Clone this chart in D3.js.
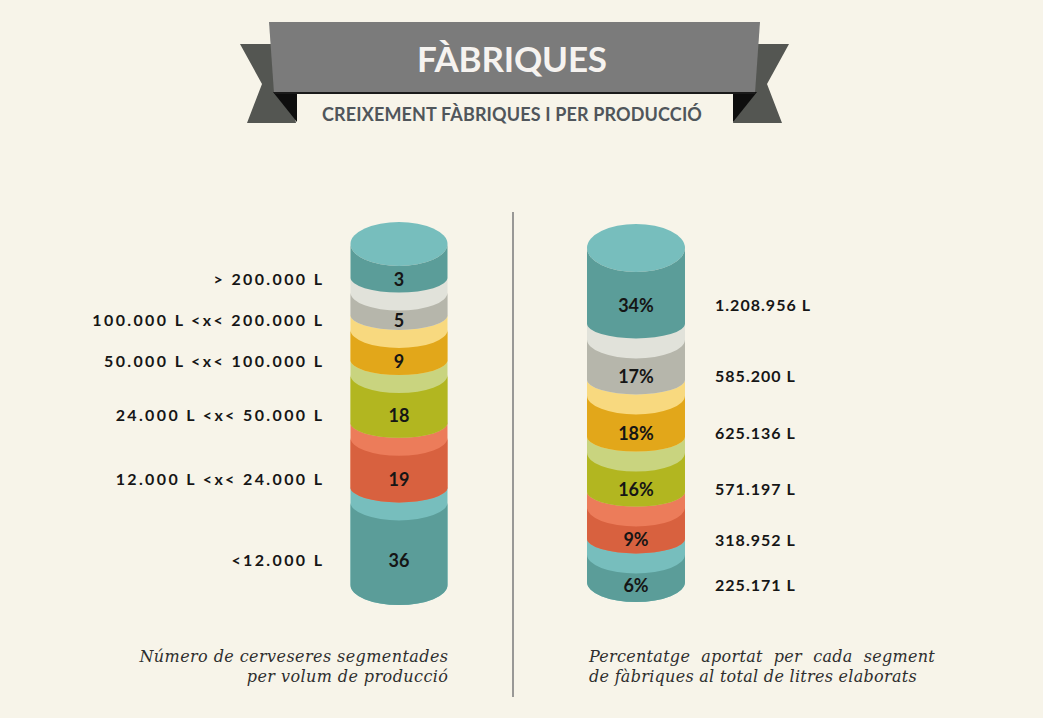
<!DOCTYPE html>
<html><head><meta charset="utf-8">
<script src="https://cdn.jsdelivr.net/npm/d3@7/dist/d3.min.js"></script>
<style>
html,body{margin:0;padding:0;background:#f7f4e9;}
svg{display:block;}
</style></head><body>
<svg id="chart" width="1043" height="718"></svg>
<script>
// ---------- DATA ----------
const leftCategories = ["> 200.000 L", "100.000 L <x< 200.000 L", "50.000 L <x< 100.000 L",
                        "24.000 L <x< 50.000 L", "12.000 L <x< 24.000 L", "<12.000 L"];
const leftValues = [3, 5, 9, 18, 19, 36];
const rightVolumes = ["1.208.956 L", "585.200 L", "625.136 L", "571.197 L", "318.952 L", "225.171 L"];
const rightPercents = [34, 17, 18, 16, 9, 6];
const titleText = "FÀBRIQUES";
const subtitleText = "CREIXEMENT FÀBRIQUES I PER PRODUCCIÓ";
const leftCaption = ["Número de cerveseres segmentades", "per volum de producció"];
const rightCaption = ["Percentatge aportat per cada segment", "de fàbriques al total de litres elaborats"];

// ---------- STYLE ----------
const lightColors = ["#77bebd", "#e1e2da", "#f8d97f", "#c9d47f", "#ec7c5a", "#77bebd"];
const darkColors  = ["#5b9d99", "#b6b6ab", "#e2a71a", "#b2b620", "#d8613f", "#5b9d99"];
const sansFont = "Lato, 'Open Sans', sans-serif";
const serifFont = "'DejaVu Serif', 'Liberation Serif', serif";

const svg = d3.select("#chart");
svg.append("rect").attr("width", 1043).attr("height", 718).attr("fill", "#f7f4e9");

// ---------- BANNER ----------
const banner = svg.append("g");
const tailColor = "#545652";
banner.append("path").attr("fill", tailColor)
  .attr("d", "M240,44 L280,44 L296,123 L247,123 L262,84 Z");
banner.append("path").attr("fill", tailColor)
  .attr("d", "M789,44 L749,44 L733,123 L782,123 L767,84 Z");
banner.append("path").attr("fill", "#0e0e0e").attr("d", "M273,92 L297,92 L297,122 Z");
banner.append("path").attr("fill", "#0e0e0e").attr("d", "M757,92 L733,92 L733,122 Z");
banner.append("path").attr("fill", "#7b7b7b").attr("d", "M269,22 L760,22 L755,93 L274,93 Z");
banner.append("rect").attr("x", 274).attr("y", 92).attr("width", 481).attr("height", 2).attr("fill", "#1a1a1a");

function fitLetterSpacing(sel, target) {
  const node = sel.node();
  const w = node.getComputedTextLength();
  const n = node.textContent.length;
  return (target - w) / n;
}

const title = banner.append("text").attr("x", 512).attr("y", 72)
  .attr("text-anchor", "middle").attr("fill", "#f6f3f0")
  .attr("font-family", sansFont).attr("font-weight", 700).attr("font-size", 35)
  .text(titleText);
{
  const ls = fitLetterSpacing(title, 190);
  title.attr("letter-spacing", ls).attr("dx", ls / 2);
}
const subtitle = banner.append("text").attr("x", 512).attr("y", 121)
  .attr("text-anchor", "middle").attr("fill", "#50565b")
  .attr("font-family", sansFont).attr("font-weight", 700).attr("font-size", 18)
  .text(subtitleText);
{
  const ls = fitLetterSpacing(subtitle, 380);
  subtitle.attr("letter-spacing", ls).attr("dx", ls / 2);
}

// ---------- CYLINDERS ----------
function stackSegments(values, top, bottom, base) {
  const n = values.length;
  const total = d3.sum(values);
  const h = d3.scaleLinear().domain([0, total]).range([0, bottom - top - n * base]);
  let cum = 0;
  return values.map((v, i) => {
    const y0 = top + i * base + h(cum);
    cum += v;
    const y1 = top + (i + 1) * base + h(cum);
    return { v, i, y0, y1 };
  });
}

function drawCylinder(g, segs, cx, rx, opt) {
  const L = cx - rx, R = cx + rx, n = segs.length;
  for (let k = n - 1; k >= 0; k--) {
    const s = segs[k];
    const ryB = k === n - 1 ? opt.ryBottom : opt.ryArcBottom;
    let yS, ryS;
    if (k === 0) {
      yS = s.y0; ryS = opt.ryFace;
      g.append("ellipse").attr("cx", cx).attr("cy", yS).attr("rx", rx).attr("ry", ryS)
        .attr("fill", lightColors[k]);
    } else {
      yS = s.y0 + opt.band; ryS = opt.ryArcTop;
      g.append("path").attr("fill", lightColors[k])
        .attr("d", `M${L},${s.y0} L${L},${s.y1} A${rx},${ryB} 0 0 0 ${R},${s.y1} L${R},${s.y0} Z`);
    }
    g.append("path").attr("fill", darkColors[k])
      .attr("d", `M${L},${yS} A${rx},${ryS} 0 0 0 ${R},${yS} L${R},${s.y1} A${rx},${ryB} 0 0 1 ${L},${s.y1} Z`);
    s.labelY = ((yS + ryS) + (s.y1 + opt.ryArcBottom)) / 2;
  }
}

const leftSegs = stackSegments(leftValues, 244, 585, 27.7);
const gL = svg.append("g");
drawCylinder(gL, leftSegs, 399, 48.5, { ryFace: 22, ryArcTop: 18, ryArcBottom: 15, ryBottom: 20, band: 15 });

const rightSegs = stackSegments(rightPercents, 248, 582, 36.7);
const gR = svg.append("g");
drawCylinder(gR, rightSegs, 636, 49, { ryFace: 24, ryArcTop: 19, ryArcBottom: 15, ryBottom: 20, band: 16 });

// numbers inside
gL.selectAll("text.num").data(leftSegs).join("text").attr("class", "num")
  .attr("x", 399).attr("y", d => d.labelY).attr("dy", "0.36em")
  .attr("text-anchor", "middle").attr("font-family", sansFont).attr("font-weight", 700)
  .attr("font-size", 18).attr("fill", "#151515").text(d => d.v);
gR.selectAll("text.num").data(rightSegs).join("text").attr("class", "num")
  .attr("x", 636).attr("y", d => d.labelY).attr("dy", "0.36em")
  .attr("text-anchor", "middle").attr("font-family", sansFont).attr("font-weight", 700)
  .attr("font-size", 18).attr("fill", "#151515").text(d => d.v + "%");

// side labels
const leftLab = svg.append("g").selectAll("text").data(leftSegs).join("text")
  .attr("x", 322).attr("y", d => d.labelY).attr("dy", "0.36em")
  .attr("text-anchor", "end").attr("font-family", sansFont).attr("font-weight", 700)
  .attr("font-size", 16).attr("fill", "#161616").text((d, i) => leftCategories[i]);
{
  const ls = fitLetterSpacing(leftLab.filter((d, i) => i === 1), 232);
  leftLab.attr("letter-spacing", ls).attr("dx", ls);
}
const rightLab = svg.append("g").selectAll("text").data(rightSegs).join("text")
  .attr("x", 715).attr("y", d => d.labelY).attr("dy", "0.36em")
  .attr("text-anchor", "start").attr("font-family", sansFont).attr("font-weight", 700)
  .attr("font-size", 16).attr("fill", "#161616").text((d, i) => rightVolumes[i]);
{
  const ls = fitLetterSpacing(rightLab.filter((d, i) => i === 0), 96);
  rightLab.attr("letter-spacing", ls);
}

// divider
svg.append("line").attr("x1", 513).attr("x2", 513).attr("y1", 212).attr("y2", 697)
  .attr("stroke", "#7a7a7a").attr("stroke-width", 1.5);

// captions
function caption(lines, x, anchor) {
  return svg.append("g").selectAll("text").data(lines).join("text")
    .attr("x", x).attr("y", (d, i) => 662 + i * 20)
    .attr("text-anchor", anchor).attr("font-family", serifFont).attr("font-style", "italic")
    .attr("font-size", 16).attr("fill", "#2e2e2e").text(d => d);
}
const lc = caption(leftCaption, 448, "end");
{
  const ls = fitLetterSpacing(lc.filter((d, i) => i === 0), 309);
  lc.attr("letter-spacing", ls).attr("dx", ls);
}
const rc = caption(rightCaption, 589, "start");
{
  const ls = fitLetterSpacing(rc.filter((d, i) => i === 1), 328);
  rc.attr("letter-spacing", ls);
  const n0 = rc.nodes()[0];
  const w0 = n0.getComputedTextLength();
  const spaces = (rightCaption[0].match(/ /g) || []).length;
  d3.select(n0).attr("word-spacing", (346 - w0) / spaces);
}
</script>
</body></html>
